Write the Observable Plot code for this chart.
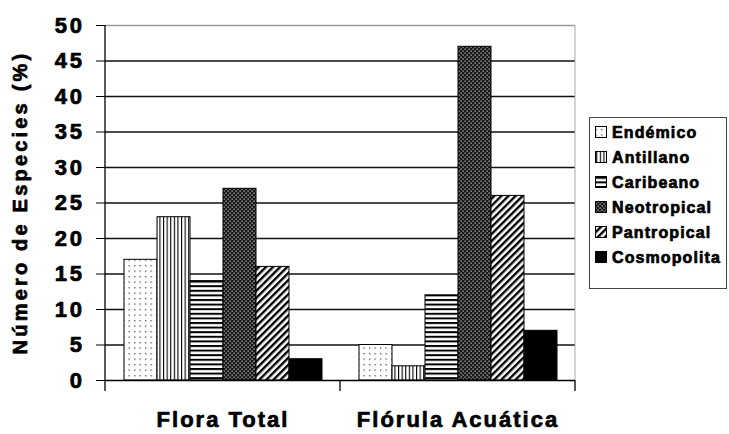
<!DOCTYPE html>
<html>
<head>
<meta charset="utf-8">
<script src="https://cdn.jsdelivr.net/npm/d3@7"></script>
<script src="https://cdn.jsdelivr.net/npm/@observablehq/plot@0.6"></script>
<style>
  html, body { margin: 0; padding: 0; background: #fff; }
</style>
</head>
<body>
<div id="chart"></div>
<script>
const groups = ["Flora Total", "Flórula Acuática"];
const categories = ["Endémico", "Antillano", "Caribeano", "Neotropical", "Pantropical", "Cosmopolita"];
const floraTotal = [17, 23, 14, 27, 16, 3];
const florulaAcuatica = [5, 2, 12, 47, 26, 7];
const yTicks = [0, 5, 10, 15, 20, 25, 30, 35, 40, 45, 50];
const yLabel = "Número de Especies (%)";

const seriesByGroup = [floraTotal, florulaAcuatica];
const data = groups.flatMap((g, gi) =>
  categories.map((c, i) => ({group: g, category: c, value: seriesByGroup[gi][i]}))
);
const patternIds = ["pat-end", "pat-ant", "pat-car", "pat-neo", "pat-pan", "pat-cos"];
const FONT = "'Liberation Sans', Arial, Helvetica, sans-serif";

const chart = Plot.plot({
  width: 729,
  height: 434,
  marginLeft: 104,
  marginRight: 154,
  marginTop: 25,
  marginBottom: 54,
  style: {fontFamily: FONT, background: "#fff", color: "#000"},
  fx: {domain: groups, padding: 0, label: null},
  x: {domain: categories, paddingInner: 0, paddingOuter: 0.46, axis: null},
  y: {domain: [0, 50], axis: null},
  color: {type: "ordinal", domain: categories, range: patternIds.map(id => `url(#${id})`)},
  marks: [
    Plot.ruleY(yTicks.filter(d => d > 0 && d < 50), {stroke: "#111", strokeWidth: 1.3}),
    Plot.ruleY([50], {stroke: "#9a9a9a", strokeWidth: 1.3}),
    Plot.barY(data, {fx: "group", x: "category", y: "value", fill: "category", stroke: "#000", strokeWidth: 1}),
    Plot.ruleY([0], {stroke: "#000", strokeWidth: 1.3}),
    Plot.axisY({ticks: yTicks, tickSize: 9, tickPadding: 12, label: null, stroke: "#000"}),
    Plot.axisFx({anchor: "bottom", tickSize: 0, tickPadding: 31, label: null})
  ]
});

document.getElementById("chart").appendChild(chart);
const svg = d3.select(chart);

// Patterns
const defs = svg.insert("defs", ":first-child");
let p = defs.append("pattern").attr("id", "pat-end").attr("patternUnits", "userSpaceOnUse").attr("width", 5.5).attr("height", 5.5);
p.append("rect").attr("width", 5.5).attr("height", 5.5).attr("fill", "#fff");
p.append("rect").attr("x", 1).attr("y", 1).attr("width", 1.3).attr("height", 1.3).attr("fill", "#444");
p = defs.append("pattern").attr("id", "pat-ant").attr("patternUnits", "userSpaceOnUse").attr("width", 3.6).attr("height", 4);
p.append("rect").attr("width", 3.6).attr("height", 4).attr("fill", "#fff");
p.append("rect").attr("x", 0).attr("y", 0).attr("width", 1.1).attr("height", 4).attr("fill", "#000");
p = defs.append("pattern").attr("id", "pat-car").attr("patternUnits", "userSpaceOnUse").attr("width", 4).attr("height", 4.6);
p.append("rect").attr("width", 4).attr("height", 4.6).attr("fill", "#fff");
p.append("rect").attr("x", 0).attr("y", 0).attr("width", 4).attr("height", 2).attr("fill", "#000");
p = defs.append("pattern").attr("id", "pat-neo").attr("patternUnits", "userSpaceOnUse").attr("width", 4).attr("height", 4);
p.append("rect").attr("width", 4).attr("height", 4).attr("fill", "#1a1a1a");
p.append("rect").attr("x", 0.5).attr("y", 0.5).attr("width", 1.2).attr("height", 1.2).attr("fill", "#cfcfcf");
p.append("rect").attr("x", 2.5).attr("y", 2.5).attr("width", 1.2).attr("height", 1.2).attr("fill", "#cfcfcf");
p = defs.append("pattern").attr("id", "pat-pan").attr("patternUnits", "userSpaceOnUse").attr("width", 5).attr("height", 5).attr("patternTransform", "rotate(45)");
p.append("rect").attr("width", 5).attr("height", 5).attr("fill", "#fff");
p.append("rect").attr("x", 0).attr("y", 0).attr("width", 2.4).attr("height", 5).attr("fill", "#000");
p = defs.append("pattern").attr("id", "pat-cos").attr("patternUnits", "userSpaceOnUse").attr("width", 4).attr("height", 4);
p.append("rect").attr("width", 4).attr("height", 4).attr("fill", "#000");

// Axis label styling (heavy bold look)
function heavy(sel, size, spacing) {
  sel.style("font-size", size + "px").style("font-weight", "bold")
    .attr("letter-spacing", spacing)
    .attr("fill", "#000").attr("stroke", "#000").attr("stroke-width", 0.7)
    .attr("stroke-linejoin", "round");
}
svg.selectAll('g[aria-label="y-axis tick label"]').attr("font-family", FONT);
heavy(svg.selectAll('g[aria-label="y-axis tick label"] text'), 22, 2.6);
svg.selectAll('g[aria-label="fx-axis tick label"]').attr("font-family", FONT);
heavy(svg.selectAll('g[aria-label="fx-axis tick label"] text'), 22, 2);

// Axis lines and group boundary ticks derived from the scales
const yS = chart.scale("y");
const fxS = chart.scale("fx");
const y0 = yS.apply(0), y50 = yS.apply(50);
const left = fxS.apply(groups[0]);
svg.append("line").attr("x1", left).attr("x2", left).attr("y1", y50).attr("y2", y0)
  .attr("stroke", "#000").attr("stroke-width", 1.3);
const bounds = groups.map(g => fxS.apply(g)).concat([fxS.apply(groups[groups.length - 1]) + fxS.bandwidth]);
const right = bounds[bounds.length - 1];
svg.append("line").attr("x1", right).attr("x2", right).attr("y1", y50).attr("y2", y0)
  .attr("stroke", "#aaa").attr("stroke-width", 1);
bounds.forEach(b => {
  svg.append("line").attr("x1", b).attr("x2", b).attr("y1", y0).attr("y2", y0 + 11)
    .attr("stroke", "#000").attr("stroke-width", 1.3);
});

// Y label
const yl = svg.append("text")
  .attr("transform", `translate(27,${(y0 + y50) / 2}) rotate(-90)`)
  .attr("text-anchor", "middle")
  .text(yLabel);
heavy(yl, 20, 3.2);

// Legend
const lg = svg.append("g").attr("transform", "translate(589,117)").attr("text-anchor", "start");
lg.append("rect").attr("x", 0.5).attr("y", 0.5).attr("width", 137).attr("height", 171)
  .attr("fill", "#fff").attr("stroke", "#444").attr("stroke-width", 1);
categories.forEach((c, i) => {
  const cy = 15 + i * 25;
  lg.append("rect").attr("x", 6.5).attr("y", cy - 5.5).attr("width", 11).attr("height", 11)
    .attr("fill", `url(#${patternIds[i]})`).attr("stroke", "#000").attr("stroke-width", 1);
  const t = lg.append("text").attr("x", 23).attr("y", cy + 6).attr("text-anchor", "start").text(c);
  heavy(t, 16, 1.1);
});
</script>
</body>
</html>
